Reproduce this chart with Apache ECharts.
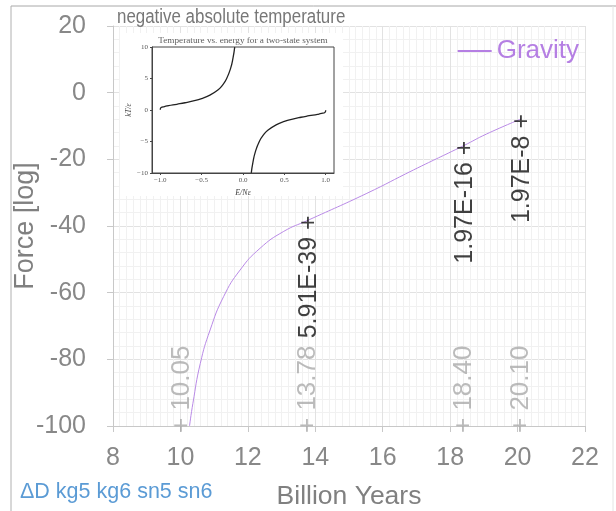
<!DOCTYPE html>
<html>
<head>
<meta charset="utf-8">
<script src="https://cdn.jsdelivr.net/npm/echarts@6/dist/echarts.min.js"></script>
<style>
  html, body { margin: 0; padding: 0; background: #fff; }
  #main { width: 616px; height: 511px; }
</style>
</head>
<body>
<div id="main"></div>
<script>
// 主曲线：引力（对数）随时间
const gravityYears = [10.27, 10.37, 10.59, 10.88, 11.28, 11.77, 12.36, 13.05, 13.78, 15.53, 16.91, 18.40, 19.08, 20.10];
const gravityLog = [-100, -93.2, -81.2, -71.2, -61.2, -53.2, -46.7, -41.7, -38.3, -30.2, -23.2, -15.9, -12.4, -7.9];

// 标注（黑色）
const markYears = [13.78, 18.40, 20.10];
const markLog = [-38.3, -15.9, -7.9];
const markText = ['5.91E-39', '1.97E-16', '1.97E-8'];

// 底部灰色年份
const epochYears = [10.05, 13.78, 18.40, 20.10];
const epochText = ['10.05', '13.78', '18.40', '20.10'];

// 小图：two-state system 的 kT/ε
const leftE = [-1.0, -0.99, -0.95, -0.9, -0.8, -0.7, -0.6, -0.5, -0.4, -0.3, -0.25, -0.2, -0.15, -0.12, -0.1];
const leftT = [0.05, 0.38, 0.55, 0.68, 0.91, 1.15, 1.44, 1.82, 2.37, 3.22, 3.92, 4.93, 6.6, 8.3, 9.97];
const rightE = [0.1, 0.12, 0.15, 0.2, 0.25, 0.3, 0.4, 0.5, 0.6, 0.7, 0.8, 0.9, 0.95, 0.99, 1.0];
const rightT = [-9.97, -8.3, -6.6, -4.93, -3.92, -3.22, -2.37, -1.82, -1.44, -1.15, -0.91, -0.68, -0.55, -0.38, -0.05];
const insetXTicks = [-1, -0.5, 0, 0.5, 1];

const zip = (a, b) => a.map((v, i) => [v, b[i]]);

let myChart = echarts.init(document.getElementById('main'));
const sans = 'Liberation Sans, Arial, sans-serif';
const serif = 'Liberation Serif, DejaVu Serif, serif';
const minus = v => String(v).replace('-', '\u2212');

let options = {
    animation: false,
    backgroundColor: '#fff',
    legend: {
        data: ['Gravity'],
        right: 32,
        top: 33,
        itemWidth: 34,
        itemHeight: 2,
        itemGap: 4,
        icon: 'rect',
        textStyle: { fontFamily: sans, fontSize: 26, color: '#b57fe3' }
    },
    graphic: [
        // 外框
        { type: 'line', shape: { x1: 11, y1: 6, x2: 616, y2: 6 }, style: { stroke: '#a8a8a8', lineWidth: 1 } },
        { type: 'line', shape: { x1: 11, y1: 6, x2: 11, y2: 511 }, style: { stroke: '#b0b0b0', lineWidth: 1 } },
        { type: 'line', shape: { x1: 613, y1: 6, x2: 613, y2: 511 }, style: { stroke: '#e4e4e4', lineWidth: 1 } },
        // 小图白底
        { type: 'rect', z: 1, shape: { x: 120, y: 33, width: 223, height: 163 }, style: { fill: '#fff' } },
        {
            type: 'text', z: 5, x: 117, y: 7, scaleX: 0.845, originX: 0,
            style: { text: 'negative absolute temperature', fontFamily: sans, fontSize: 20, fill: '#777' }
        },
        {
            type: 'text', z: 5, left: 20, top: 481,
            style: { text: 'ΔD kg5 kg6 sn5 sn6', fontFamily: sans, fontSize: 21.5, fill: '#5b9bd5' }
        }
    ],
    grid: [
        { left: 113, right: 31, top: 26, bottom: 85, outerBoundsMode: 'none' },
        { left: 152, top: 47, width: 182, height: 126, show: true, borderColor: '#444', borderWidth: 1, z: 3, outerBoundsMode: 'none' }
    ],
    xAxis: [
        {
            gridIndex: 0,
            type: 'value',
            min: 8,
            max: 22,
            interval: 2,
            name: 'Billion Years',
            nameLocation: 'middle',
            nameGap: 57,
            nameTextStyle: { fontFamily: sans, fontSize: 26.5, color: '#808080' },
            axisLine: { show: true, onZero: false, lineStyle: { color: '#c8c8c8' } },
            axisTick: { show: true, length: 6, lineStyle: { color: '#c8c8c8' } },
            axisLabel: { fontFamily: sans, fontSize: 25, color: '#888', margin: 20 },
            splitLine: { show: true, lineStyle: { color: '#e2e2e2' } },
            minorTick: { show: false, splitNumber: 10 },
            minorSplitLine: { show: true, lineStyle: { color: '#f1f1f1' } }
        },
        {
            gridIndex: 1,
            type: 'value',
            min: -1.1,
            max: 1.1,
            z: 3,
            name: 'E/Nε',
            nameLocation: 'middle',
            nameGap: 16,
            nameTextStyle: { fontFamily: serif, fontStyle: 'italic', fontSize: 8, color: '#444' },
            axisLine: { show: true, onZero: false, lineStyle: { color: '#444' } },
            axisTick: { show: true, length: 2, customValues: insetXTicks, lineStyle: { color: '#444' } },
            axisLabel: { fontFamily: serif, fontSize: 7, color: '#555', margin: 4, customValues: insetXTicks,
                formatter: v => minus(v.toFixed(1)) },
            splitLine: { show: false }
        }
    ],
    yAxis: [
        {
            gridIndex: 0,
            type: 'value',
            min: -100,
            max: 20,
            interval: 20,
            name: 'Force [log]',
            nameLocation: 'middle',
            nameGap: 74,
            nameMoveOverlap: false,
            nameTextStyle: { fontFamily: sans, fontSize: 27, color: '#808080' },
            axisLine: { show: true, onZero: false, lineStyle: { color: '#c8c8c8' } },
            axisTick: { show: true, length: 6, lineStyle: { color: '#c8c8c8' } },
            axisLabel: { fontFamily: sans, fontSize: 25, color: '#888', margin: 27 },
            splitLine: { show: true, lineStyle: { color: '#e2e2e2' } },
            minorTick: { show: false, splitNumber: 5 },
            minorSplitLine: { show: true, lineStyle: { color: '#f1f1f1' } }
        },
        {
            gridIndex: 1,
            type: 'value',
            min: -10,
            max: 10,
            interval: 5,
            z: 3,
            name: 'kT/ε',
            nameLocation: 'middle',
            nameGap: 16,
            nameTextStyle: { fontFamily: serif, fontStyle: 'italic', fontSize: 8, color: '#444' },
            axisLine: { show: true, onZero: false, lineStyle: { color: '#444' } },
            axisTick: { show: true, length: 2, lineStyle: { color: '#444' } },
            axisLabel: { fontFamily: serif, fontSize: 7, color: '#555', margin: 4, formatter: v => minus(v) },
            splitLine: { show: false }
        }
    ],
    series: [
        {
            name: 'Gravity',
            type: 'line',
            data: zip(gravityYears, gravityLog),
            smooth: true,
            showSymbol: false,
            color: '#b57fe3',
            lineStyle: { width: 1, color: '#b98ae6' },
            z: 4
        },
        {
            name: 'marks',
            type: 'scatter',
            data: markYears.map((x, i) => ({ value: [x, markLog[i]], name: markText[i] })),
            symbolSize: 0,
            z: 6,
            label: {
                show: true,
                position: [1, -5],
                rotate: 90,
                align: 'right',
                verticalAlign: 'middle',
                formatter: p => p.name + ' +',
                fontFamily: sans,
                fontSize: 25,
                color: '#111'
            }
        },
        {
            name: 'epochs',
            type: 'scatter',
            data: epochYears.map((x, i) => ({ value: [x, -100], name: epochText[i] })),
            symbolSize: 0,
            z: 6,
            label: {
                show: true,
                position: [0, 7],
                rotate: 90,
                align: 'left',
                verticalAlign: 'middle',
                formatter: p => '+ ' + p.name,
                fontFamily: sans,
                fontSize: 26,
                color: '#aaa'
            }
        },
        {
            name: 'inset-low',
            type: 'line',
            xAxisIndex: 1,
            yAxisIndex: 1,
            data: zip(leftE, leftT),
            smooth: true,
            showSymbol: false,
            lineStyle: { width: 1.3, color: '#222' },
            z: 4
        },
        {
            name: 'inset-high',
            type: 'line',
            xAxisIndex: 1,
            yAxisIndex: 1,
            data: zip(rightE, rightT),
            smooth: true,
            showSymbol: false,
            lineStyle: { width: 1.3, color: '#222' },
            z: 4
        },
        {
            // 小图标题
            name: 'inset-title',
            type: 'scatter',
            xAxisIndex: 1,
            yAxisIndex: 1,
            data: [{ value: [0, 10], name: 'Temperature vs. energy for a two-state system' }],
            symbolSize: 0,
            z: 5,
            label: {
                show: true,
                position: 'top',
                distance: 2,
                formatter: p => p.name,
                fontFamily: serif,
                fontSize: 9.2,
                color: '#333'
            }
        }
    ]
};
myChart.setOption(options);
window.onresize = myChart.resize;
</script>
</body>
</html>
